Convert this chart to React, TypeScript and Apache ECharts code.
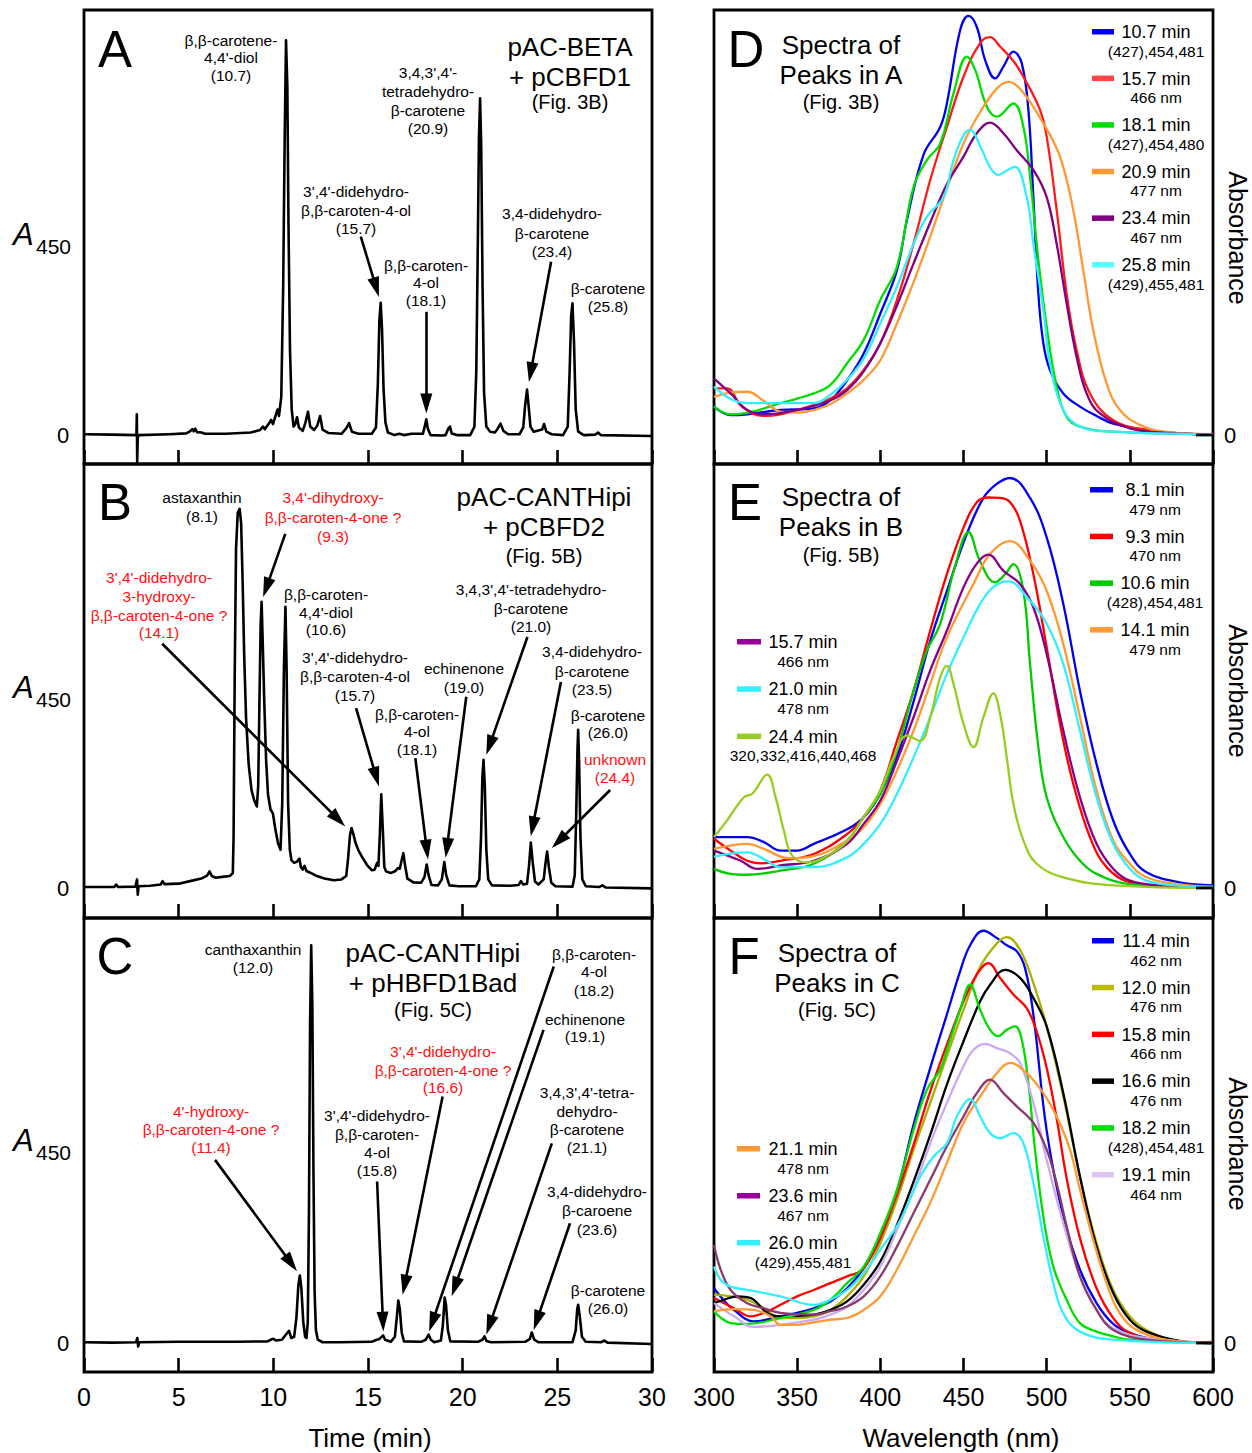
import { useEffect, useRef } from "react";
import * as echarts from "echarts";

const FONT = '"Liberation Sans", Arial, Helvetica, sans-serif';

// ---------------- axes ----------------
const timeMin = 0, timeMax = 30, timeStep = 5;
const wlMin = 300, wlMax = 600, wlStep = 50;
const yTop = 100;
const yBottoms = [-6.8, -7.1, -6.8, -6.8, -7.1, -6.8];

// ---------------- chromatograms: [time (min), A450 (rel.)] ----------------
const chromA = [
  [0, 0.2], [1.5, 0.1], [2.72, 0], [2.77, 0.3], [2.79, 4.9], [2.81, -6.3], [2.84, -0.5], [2.9, 0],
  [4.5, 0.2], [5.4, 0.4], [5.6, 0.9], [5.72, 1.4], [5.8, 0.9], [5.88, 1.5], [5.97, 0.7], [6.2, 0.6], [6.4, 0.3],
  [7.5, 0.3], [8.8, 0.6], [9.3, 1.2], [9.45, 2.0], [9.55, 1.4], [9.75, 2.6], [9.88, 3.6], [9.98, 2.6],
  [10.12, 4.6], [10.22, 6.0], [10.3, 4.5], [10.42, 9], [10.52, 35], [10.6, 70], [10.67, 92.9], [10.74, 82],
  [10.8, 50], [10.88, 20], [10.97, 6], [11.07, 2], [11.15, 2.5], [11.25, 4.2], [11.35, 1.8], [11.55, 1.0],
  [11.7, 3.0], [11.83, 5.5], [11.95, 2.0], [12.15, 1.2], [12.32, 2.2], [12.47, 4.5], [12.6, 1.3], [12.9, 0.5],
  [13.6, 0.3], [13.85, 1.6], [14.0, 2.8], [14.15, 0.8], [14.5, 0.3], [15.2, 0.3], [15.42, 1.8], [15.52, 12],
  [15.6, 27], [15.67, 31.1], [15.74, 25], [15.82, 11], [15.92, 3], [16.05, 0.6], [16.4, 0], [16.65, 0.3],
  [16.9, 0], [17.3, 0.3], [17.9, 0.3], [18.02, 2.5], [18.08, 3.7], [18.16, 1.5], [18.3, 0], [18.9, -0.1],
  [19.1, 0], [19.25, 1.6], [19.33, 2.0], [19.42, 0.4], [19.7, 0], [20.4, 0], [20.62, 2], [20.72, 15],
  [20.8, 45], [20.86, 70], [20.92, 79.2], [20.98, 68], [21.05, 35], [21.13, 10], [21.25, 2], [21.45, 0.8],
  [21.7, 0.6], [21.85, 1.5], [22.0, 2.7], [22.15, 1.0], [22.4, 0.2], [23.0, 0.2], [23.2, 1.8], [23.3, 7],
  [23.4, 10.7], [23.48, 7], [23.58, 2], [23.75, 0.8], [24.2, 1.3], [24.3, 2.6], [24.42, 0.8], [24.7, 0.2],
  [25.3, 0], [25.55, 2], [25.65, 15], [25.73, 28], [25.8, 31], [25.88, 22], [25.97, 6], [26.1, 0.8],
  [26.4, 0], [27.0, 0.1], [27.15, 0.6], [27.3, 0], [30, -0.2],
];

const chromB = [
  [0, 0.2], [1.6, 0.2], [1.7, 0.8], [1.8, 0.2], [2.72, 0.3], [2.8, 2.0], [2.84, -1.6], [2.88, 0.4],
  [3.5, 0.5], [4.05, 0.8], [4.15, 1.6], [4.25, 0.9], [5.0, 1.0], [5.6, 1.6], [6.2, 2.2], [6.5, 2.9],
  [6.63, 3.9], [6.75, 2.8], [6.95, 2.4], [7.3, 2.6], [7.7, 2.8], [7.86, 3.5], [7.9, 12], [7.96, 50],
  [8.03, 80], [8.12, 88.5], [8.22, 89.4], [8.3, 86], [8.38, 72], [8.46, 55], [8.56, 40], [8.7, 29],
  [8.85, 23], [9.0, 20.5], [9.13, 19.2], [9.2, 24], [9.27, 45], [9.33, 62], [9.38, 67.5], [9.44, 58],
  [9.52, 44], [9.62, 30], [9.72, 22], [9.85, 18.5], [9.98, 17.5], [10.1, 14], [10.25, 10.5], [10.38, 9],
  [10.47, 20], [10.56, 52], [10.64, 66.3], [10.7, 52], [10.78, 20], [10.87, 9], [10.96, 6.5], [11.1, 5.9],
  [11.25, 6.2], [11.38, 6.9], [11.45, 5], [11.55, 4.3], [11.65, 5.2], [11.75, 4], [12.0, 3.5], [12.3, 2.8],
  [12.7, 2.2], [13.2, 1.8], [13.6, 2.0], [13.85, 2.8], [13.95, 7], [14.05, 12.5], [14.13, 14.1], [14.22, 12.8],
  [14.35, 10.5], [14.5, 8.8], [14.7, 7.2], [14.95, 5.4], [15.2, 4.2], [15.35, 4.3], [15.48, 5.9], [15.55, 5.2],
  [15.62, 12], [15.7, 22.1], [15.78, 14], [15.86, 5], [15.95, 3.9], [16.2, 3.5], [16.45, 4.0], [16.58, 4.7],
  [16.68, 4.5], [16.8, 7], [16.87, 8.2], [16.95, 5.5], [17.08, 2.2], [17.4, 1.3], [17.8, 1.2], [17.98, 2.5],
  [18.1, 5.5], [18.2, 3], [18.35, 0.7], [18.7, 0.6], [18.9, 2], [19.03, 6.1], [19.13, 3], [19.3, 0.6],
  [19.8, 0.4], [20.7, 0.4], [20.88, 2], [20.97, 12], [21.04, 26], [21.1, 30.2], [21.17, 24], [21.25, 9],
  [21.35, 2], [21.55, 0.6], [22.5, 0.5], [22.95, 0.7], [23.08, 1.6], [23.2, 0.8], [23.4, 1], [23.5, 5],
  [23.6, 10.7], [23.7, 6], [23.82, 1.5], [24.0, 0.8], [24.28, 2], [24.38, 6], [24.46, 8.6], [24.55, 5],
  [24.68, 1.2], [24.9, 0.4], [25.8, 0.3], [25.92, 3], [26.0, 18], [26.06, 32], [26.1, 37.3], [26.15, 30],
  [26.22, 12], [26.32, 2], [26.5, 0.4], [27.2, 0.2], [27.38, 0.6], [27.55, 0.1], [30, -0.1],
];

const chromC = [
  [0, 0.2], [1.5, 0.1], [2.75, 0.2], [2.82, 1.2], [2.86, -0.8], [2.92, 0.2], [5, 0.3], [8, 0.3],
  [9.7, 0.4], [9.9, 0.9], [10.0, 1.0], [10.15, 0.6], [10.45, 0.8], [10.7, 2.2], [10.83, 2.9], [10.95, 1.2],
  [11.1, 1.5], [11.22, 6], [11.32, 13.5], [11.4, 15.9], [11.48, 13], [11.58, 5], [11.68, 1.5], [11.75, 1.2],
  [11.82, 5], [11.88, 30], [11.94, 75], [12.0, 93.6], [12.06, 80], [12.12, 40], [12.18, 12], [12.25, 3],
  [12.35, 0.8], [12.6, 0.2], [13.5, 0.2], [15.2, 0.3], [15.45, 0.8], [15.58, 0.9], [15.7, 1.4], [15.8, 1.8],
  [15.9, 0.8], [16.2, 0.3], [16.42, 1.5], [16.52, 6], [16.6, 10], [16.68, 8], [16.78, 2.5], [16.9, 0.4],
  [17.8, 0.3], [18.05, 0.8], [18.2, 2], [18.32, 0.8], [18.5, 0.2], [18.85, 0.6], [18.95, 4], [19.05, 10.7],
  [19.12, 9], [19.22, 3], [19.35, 0.4], [20.8, 0.3], [21.05, 0.8], [21.15, 1.6], [21.26, 0.5], [21.5, 0.2],
  [23.3, 0.3], [23.55, 1.0], [23.65, 2.5], [23.78, 0.8], [24.0, 0.2], [25.8, 0.2], [25.97, 3], [26.05, 8],
  [26.1, 9], [26.18, 6.5], [26.3, 1.5], [26.5, 0.3], [27.3, 0.2], [27.48, 0.6], [27.65, 0.1], [30, -0.2],
];

// arrows: [fromTime, fromA, tipTime, tipA]
const arrowsA = [[14.62, 46.7, 15.58, 32.5], [18.08, 29, 18.08, 5.1], [24.67, 40.8, 23.5, 12.5]];
const arrowsB = [
  [10.63, 83.5, 9.46, 68.6], [4.13, 57.6, 13.8, 14.5], [14.37, 42.4, 15.58, 23.9], [17.5, 30.6, 18.17, 6.7],
  [20.19, 45.1, 19.1, 7.1], [23.42, 59.2, 21.25, 31.4], [25.19, 48.6, 23.6, 12.2], [27.79, 23.1, 24.71, 9.4],
];
const arrowsC = [
  [6.92, 43.1, 11.25, 16.9], [15.48, 38, 15.81, 2.7], [18.94, 58, 16.83, 11.4], [24.81, 88.6, 18.23, 2.7],
  [24.27, 73.7, 19.42, 11], [24.71, 47, 21.25, 2], [25.67, 28.2, 23.75, 3.1],
];

// ---------------- spectra: [wavelength (nm), absorbance (rel.)] ----------------
// D
const d107 = [[300,6.7],[310,4.7],[320,4.9],[340,5.9],[360,6.3],[370,8.2],[380,12.9],[390,19.2],[400,28.6],[410,38.8],[416,50.6],[426,66],[436,72.5],[440,78],[448,95.3],[453,98.6],[458,96],[463,88.2],[469,83.9],[474,86.7],[480,90.2],[485,87.5],[489,76.5],[492,56],[495,33.3],[498,21.6],[502,15.3],[510,9.8],[520,6.7],[530,4.5],[540,2.7],[560,1.2],[580,0.4],[600,0.2]];
const d157 = [[300,11],[308,11],[316,7],[326,4.7],[332,4.5],[350,5.9],[370,8.6],[380,11],[390,15.3],[400,21.6],[410,31.8],[420,45.1],[430,60],[440,72.5],[450,84.3],[460,92.2],[466,93.6],[472,91.4],[480,88],[486,84.3],[496,76.5],[500,70.2],[506,53],[512,33.3],[518,20],[526,9.8],[540,3.5],[560,1.2],[580,0.4],[600,0.2]];
const d181 = [[300,6.7],[310,4.9],[320,5.2],[340,7.5],[350,8.6],[360,9.8],[370,11.8],[380,16.9],[390,22.4],[400,31.8],[410,39.6],[420,58.4],[428,64.7],[436,68.6],[444,80.4],[452,89],[457,85.9],[464,77.3],[470,74.9],[480,78],[486,72.5],[490,60.8],[495,41.2],[500,25.5],[506,11.4],[512,4.3],[520,2],[540,0.8],[600,0.2]];
const d209 = [[300,9],[310,10],[320,10.2],[330,8],[340,5.5],[350,5.3],[360,5.9],[370,7.3],[380,9.8],[390,13],[400,17.6],[410,26.3],[420,36],[430,46.7],[440,58],[450,68.6],[460,76],[470,81.5],[477,83.1],[485,81],[498,73.3],[508,65.5],[516,52.9],[522,38.8],[528,24.7],[536,12.2],[544,5.9],[556,2.4],[570,0.8],[600,0.2]];
const d234 = [[300,13.3],[310,9.8],[320,5.9],[330,4.9],[350,5.9],[370,8.2],[380,10.6],[390,15],[400,21.6],[410,30.5],[420,40.4],[430,50],[440,59],[450,65.5],[458,71],[466,73.5],[474,71],[482,67],[492,62.4],[500,56],[506,45],[512,31],[518,18.4],[524,9.8],[532,5.1],[550,1.6],[570,0.6],[600,0.2]];
const d258 = [[300,11.4],[310,8.5],[320,7.5],[340,7.5],[360,7.5],[370,9.5],[380,13],[390,18],[400,26.3],[410,34.9],[420,45],[428,51.4],[438,56],[444,64.7],[450,70.5],[454,71.8],[460,68],[466,63],[471,61.2],[477,62.5],[481,63.1],[488,56],[492,45],[498,29.4],[502,16.9],[510,5.9],[520,2],[540,0.8],[600,0.2]];

// E
const e81 = [[300,12],[320,12],[330,10.8],[340,8.8],[350,8.8],[360,10.4],[370,12],[384,14.7],[392,17.5],[400,22.2],[410,31],[420,44],[430,58.3],[440,70],[452,83.5],[462,92],[470,95.3],[478,96.7],[490,92],[500,82.7],[510,67],[520,46.5],[530,29.2],[540,15.9],[550,8],[560,3.7],[580,1.3],[600,0.6]];
const e93 = [[300,11.6],[310,8.8],[320,6.4],[328,5.8],[340,6.4],[360,8],[380,12.7],[390,16.7],[400,23],[410,34.7],[420,46.5],[430,60.7],[440,74],[450,85],[458,91],[465,92.1],[472,92],[478,91],[484,86.6],[492,74],[500,56.8],[508,38.7],[516,24.5],[526,12],[536,4.9],[550,1.3],[570,0.5],[600,0.3]];
const e106 = [[300,4.5],[310,3.3],[320,3.1],[340,4.1],[360,5.7],[380,11.2],[390,16.7],[400,22.2],[410,32.4],[420,46.5],[428,56],[436,62.3],[445,76],[453,83.9],[460,77],[469,72.1],[475,74],[480,76.4],[486,70.1],[490,52.8],[495,33.2],[500,21.4],[510,12],[520,6.4],[530,3.3],[550,0.9],[600,0.2]];
const e141 = [[300,9.2],[310,10],[320,10.4],[330,9.2],[345,7],[360,7.5],[380,11.2],[390,14.3],[400,19.8],[410,27.7],[420,37.1],[430,48.1],[440,59.1],[456,71.7],[466,78.8],[478,81.8],[490,77.2],[500,70.1],[510,57.5],[520,40.3],[530,23],[540,11.2],[550,5.7],[560,2.5],[580,0.8],[600,0.3]];
const e157 = [[300,8.8],[316,6.4],[326,4.5],[340,5.3],[360,6.4],[380,10.4],[390,15.1],[400,20.6],[410,30],[420,40.3],[430,51.3],[440,60.7],[450,70.9],[458,76.5],[465,78.6],[474,74.8],[484,71.7],[492,66.2],[500,55.2],[510,37.1],[520,21.4],[530,10.4],[540,4.5],[550,1.7],[570,0.5],[600,0.2]];
const e210 = [[300,7.4],[320,8.4],[330,6.8],[340,4.9],[360,4.9],[380,7.2],[390,10.4],[400,15.1],[410,22.2],[420,30.8],[430,40.3],[440,50.5],[450,59.1],[460,67],[468,71],[477,72.3],[488,68.6],[500,62.3],[510,52.8],[520,37.1],[530,21.4],[540,10.4],[550,4.5],[560,1.7],[580,0.5],[600,0.2]];
const e244 = [[300,12],[308,16],[318,21.4],[323,22.2],[332,26.7],[337,21.4],[342,13.5],[347,7.6],[356,6],[370,8],[380,11],[390,16.7],[400,23],[408,30.8],[416,35.9],[424,34.7],[430,40.3],[436,49.7],[440,52.4],[444,48.1],[450,38.7],[456,33.2],[462,40.3],[468,45.9],[472,41],[476,30.8],[480,19.8],[486,11.2],[494,5.7],[510,2.5],[540,0.6],[600,0]];

// F
const f114 = [[300,12.9],[306,10],[312,7.8],[324,5.1],[340,6.3],[350,7.1],[360,8.2],[370,9.8],[380,12.9],[390,17.6],[400,24.7],[410,35.7],[420,51.4],[430,64.7],[440,77.3],[448,87.5],[454,93.6],[462,97],[470,95.3],[476,93.6],[482,92.2],[487,88.2],[492,77.3],[500,50],[510,29.8],[520,17.3],[530,9.4],[540,4.5],[550,2.4],[560,1.2],[580,0.3],[600,0]];
const f120 = [[300,11.4],[310,11],[320,10.2],[330,8.2],[340,5.9],[350,5.9],[360,6.3],[370,7.8],[380,11],[390,15.7],[400,23.5],[410,33.7],[420,45.5],[430,56.5],[440,67.5],[450,78.4],[460,88.5],[470,94],[476,95.5],[484,92.5],[492,84.7],[500,74.5],[510,58],[520,39.2],[530,23.5],[540,12.5],[550,6.3],[560,3.1],[580,0.4],[600,0]];
const f158 = [[300,10.6],[312,8.2],[322,6.3],[330,7.1],[340,9],[350,11],[360,12.5],[370,14.1],[380,15.7],[388,16.9],[394,20],[400,24.7],[410,35],[420,46.7],[430,59.2],[440,70.2],[450,80.4],[458,86.7],[465,89.4],[472,85.9],[480,82],[488,78.8],[494,73.3],[500,64.7],[506,52.9],[512,38.8],[520,24.7],[530,12.9],[540,5.9],[550,2.4],[570,0.4],[600,0.2]];
const f166 = [[300,9.4],[306,10.2],[314,11],[322,10.6],[332,7.1],[340,6.3],[360,6.7],[370,7.8],[380,9.8],[390,13.7],[400,19.2],[410,27.8],[420,38],[430,49],[440,60.8],[450,71],[460,80.4],[466,84.3],[475,87.8],[484,85.9],[492,81.2],[500,74.5],[510,58.8],[520,39.2],[530,22.7],[540,11.8],[550,5.5],[560,2.7],[580,0.5],[600,0]];
const f182 = [[300,7.5],[304,6],[310,4.7],[320,4.5],[340,5.9],[360,7.8],[370,10.2],[380,14.1],[390,18],[400,25.9],[410,36.1],[420,50.2],[428,59.6],[436,64.3],[440,69],[448,78.4],[454,84.3],[460,78.4],[466,73.7],[471,72.2],[476,73.7],[481,74.5],[485,71.4],[489,61.2],[493,45.5],[498,29.8],[504,18],[512,10.2],[520,4.7],[530,2.7],[536,2],[550,0.8],[600,0]];
const f191 = [[300,9.4],[312,6.3],[324,3.8],[340,4.3],[360,5.5],[370,6.7],[380,8.6],[390,12.5],[400,18],[410,26.7],[420,36.1],[430,47],[440,56.5],[450,65.1],[456,69],[463,70.4],[470,69.4],[478,68.2],[484,65.9],[492,56.5],[500,43.1],[510,28.2],[520,15.7],[530,7.8],[540,3.5],[560,1.2],[600,0]];
const f211 = [[300,7.5],[312,8],[324,7.8],[334,6.3],[340,4.3],[350,4.3],[360,4.9],[370,5.5],[380,5.9],[390,7.8],[400,11],[410,17.3],[420,25.1],[430,33],[440,42.4],[450,51.8],[460,58],[470,63.5],[478,65.9],[488,63.5],[498,58.8],[506,53.3],[514,45.5],[520,36.1],[528,24.3],[536,14.1],[544,7],[556,2.7],[580,0.4],[600,0]];
const f236 = [[300,23.1],[304,17.3],[310,12.5],[320,9.4],[330,8.2],[340,7.1],[360,6.7],[370,7.5],[380,8.6],[390,11],[400,15.7],[410,22.7],[420,30.6],[430,38.4],[440,46.3],[450,53.3],[458,58.8],[466,62],[474,58.8],[482,55.7],[492,51.8],[500,45.5],[506,37.6],[512,27.5],[520,15.7],[530,7.8],[540,3.1],[560,0.8],[600,0]];
const f260 = [[300,18],[304,14.9],[310,13.3],[320,12.5],[340,11],[360,9],[370,10.2],[380,12.5],[390,16.5],[400,22],[410,27.5],[416,32.2],[424,39.2],[432,43.9],[440,47],[446,53.3],[454,57.4],[460,53.3],[466,49.4],[472,48.2],[480,49.4],[486,47],[492,37.6],[498,25.1],[504,14.1],[510,7],[520,2.7],[540,0.8],[600,0]];

// legend texts & colours (line colour, legend swatch colour)
const namesD = ["10.7 min", "15.7 min", "18.1 min", "20.9 min", "23.4 min", "25.8 min"];
const subsD = ["(427),454,481", "466 nm", "(427),454,480", "477 nm", "467 nm", "(429),455,481"];
const colorsD = ["#0000ee", "#ff1a1a", "#00dd00", "#ff9933", "#800080", "#33eeff"];
const swatchD = ["#0000ee", "#ff4444", "#00dd00", "#ff9933", "#800080", "#55ffff"];
const dataD = [d107, d157, d181, d209, d234, d258];

const namesE = ["8.1 min", "9.3 min", "10.6 min", "14.1 min", "15.7 min", "21.0 min", "24.4 min"];
const subsE = ["479 nm", "470 nm", "(428),454,481", "479 nm", "466 nm", "478 nm", "320,332,416,440,468"];
const colorsE = ["#0000ee", "#ff0000", "#00cc00", "#ff9933", "#880088", "#33eeff", "#99cc22"];
const swatchE = ["#0000ee", "#ff0000", "#00cc00", "#ff9933", "#990099", "#33eeff", "#99cc22"];
const dataE = [e81, e93, e106, e141, e157, e210, e244];

const namesF = ["11.4 min", "12.0 min", "15.8 min", "16.6 min", "18.2 min", "19.1 min", "21.1 min", "23.6 min", "26.0 min"];
const subsF = ["462 nm", "476 nm", "466 nm", "476 nm", "(428),454,481", "464 nm", "478 nm", "467 nm", "(429),455,481"];
const colorsF = ["#0000ee", "#aab000", "#ff0000", "#000000", "#00dd00", "#ccaaf0", "#ff9933", "#8b3a70", "#33eeff"];
const swatchF = ["#0000ee", "#bbbb00", "#ff0000", "#000000", "#00dd00", "#ddc4f5", "#ff9933", "#990099", "#33eeff"];
const dataF = [f114, f120, f158, f166, f182, f191, f211, f236, f260];

// annotation texts
const RED = "#ff1111";
const labelsA = [
  { x: 231, y: [40, 57, 75], t: ["β,β-carotene-", "4,4'-diol", "(10.7)"] },
  { x: 428, y: [72, 91, 110, 128], t: ["3,4,3',4'-", "tetradehydro-", "β-carotene", "(20.9)"] },
  { x: 356, y: [191, 210, 228], t: ["3',4'-didehydro-", "β,β-caroten-4-ol", "(15.7)"] },
  { x: 426, y: [265, 282, 300], t: ["β,β-caroten-", "4-ol", "(18.1)"] },
  { x: 552, y: [213, 233, 251], t: ["3,4-didehydro-", "β-carotene", "(23.4)"] },
  { x: 608, y: [288, 306], t: ["β-carotene", "(25.8)"] },
];
const labelsB = [
  { x: 202, y: [497, 516], t: ["astaxanthin", "(8.1)"] },
  { x: 333, y: [497, 517, 536], t: ["3,4'-dihydroxy-", "β,β-caroten-4-one ?", "(9.3)"], red: true },
  { x: 159, y: [577, 596, 615, 632], t: ["3',4'-didehydro-", "3-hydroxy-", "β,β-caroten-4-one ?", "(14.1)"], red: true },
  { x: 326, y: [594, 612, 629], t: ["β,β-caroten-", "4,4'-diol", "(10.6)"] },
  { x: 531, y: [589, 608, 626], t: ["3,4,3',4'-tetradehydro-", "β-carotene", "(21.0)"] },
  { x: 355, y: [657, 676, 695], t: ["3',4'-didehydro-", "β,β-caroten-4-ol", "(15.7)"] },
  { x: 464, y: [668, 687], t: ["echinenone", "(19.0)"] },
  { x: 592, y: [651, 671, 689], t: ["3,4-didehydro-", "β-carotene", "(23.5)"] },
  { x: 417, y: [714, 731, 749], t: ["β,β-caroten-", "4-ol", "(18.1)"] },
  { x: 608, y: [715, 732], t: ["β-carotene", "(26.0)"] },
  { x: 615, y: [759, 777], t: ["unknown", "(24.4)"], red: true },
];
const labelsC = [
  { x: 253, y: [949, 967], t: ["canthaxanthin", "(12.0)"] },
  { x: 594, y: [954, 971, 990], t: ["β,β-caroten-", "4-ol", "(18.2)"] },
  { x: 585, y: [1019, 1036], t: ["echinenone", "(19.1)"] },
  { x: 443, y: [1051, 1070, 1087], t: ["3',4'-didehydro-", "β,β-caroten-4-one ?", "(16.6)"], red: true },
  { x: 587, y: [1092, 1111, 1129, 1147], t: ["3,4,3',4'-tetra-", "dehydro-", "β-carotene", "(21.1)"] },
  { x: 211, y: [1111, 1129, 1147], t: ["4'-hydroxy-", "β,β-caroten-4-one ?", "(11.4)"], red: true },
  { x: 377, y: [1115, 1134, 1152, 1170], t: ["3',4'-didehydro-", "β,β-caroten-", "4-ol", "(15.8)"] },
  { x: 597, y: [1191, 1210, 1229], t: ["3,4-didehydro-", "β-caroene", "(23.6)"] },
  { x: 608, y: [1290, 1308], t: ["β-carotene", "(26.0)"] },
];
const titles = [
  { x: 570, y: [47, 77, 102], t: ["pAC-BETA", "+ pCBFD1", "(Fig. 3B)"] },
  { x: 544, y: [497, 527, 556], t: ["pAC-CANTHipi", "+ pCBFD2", "(Fig. 5B)"] },
  { x: 433, y: [953, 983, 1010], t: ["pAC-CANTHipi", "+ pHBFD1Bad", "(Fig. 5C)"] },
  { x: 841, y: [45, 75, 102], t: ["Spectra of", "Peaks in A", "(Fig. 3B)"] },
  { x: 841, y: [497, 527, 555], t: ["Spectra of", "Peaks in B", "(Fig. 5B)"] },
  { x: 837, y: [953, 983, 1010], t: ["Spectra of", "Peaks in C", "(Fig. 5C)"] },
];
const panelLetters = [
  { x: 115, y: 49, t: "A" }, { x: 115, y: 502, t: "B" }, { x: 115, y: 956, t: "C" },
  { x: 746, y: 49, t: "D" }, { x: 745, y: 502, t: "E" }, { x: 744, y: 956, t: "F" },
];

function txt(x: number, y: number, text: string, size: number, color = "#000", align = "center", extra: any = {}) {
  return {
    type: "text", x, y, silent: true, z: 10,
    style: {
      text, fill: color, fontSize: size, fontFamily: FONT,
      align, textAlign: align, verticalAlign: "middle", textVerticalAlign: "middle", ...extra,
    },
  };
}

function buildOption() {
  const gridRects = [
    { left: 84, top: 10, width: 568, height: 454 },
    { left: 84, top: 464, width: 568, height: 454 },
    { left: 84, top: 918, width: 568, height: 454 },
    { left: 714, top: 10, width: 499, height: 454 },
    { left: 714, top: 464, width: 499, height: 454 },
    { left: 714, top: 918, width: 499, height: 454 },
  ];
  const grid = gridRects.map((g) => ({
    ...g, show: true, borderColor: "#000", borderWidth: 2.8, backgroundColor: "transparent",
    containLabel: false, outerBoundsMode: "none",
  }));
  const xAxis = gridRects.map((_, i) => {
    const isTime = i < 3;
    const bottom = i === 2 || i === 5;
    return {
      type: "value", gridIndex: i,
      min: isTime ? timeMin : wlMin, max: isTime ? timeMax : wlMax, interval: isTime ? timeStep : wlStep,
      axisLine: { show: false, onZero: false },
      splitLine: { show: false },
      axisTick: { show: true, inside: true, length: 14, lineStyle: { color: "#000", width: 2.6 } },
      axisLabel: { show: bottom, fontSize: 25, color: "#000", fontFamily: FONT, margin: 12, showMinLabel: true, showMaxLabel: true },
    };
  });
  const yAxis = gridRects.map((_, i) => ({
    type: "value", gridIndex: i, min: yBottoms[i], max: yTop, show: false,
    axisLine: { onZero: false }, splitLine: { show: false },
  }));

  // pull each arrow's end back by half the head length so that the head's tip lands on the read point
  const HEAD = 20;
  const arrows = [arrowsA, arrowsB, arrowsC].map((list, i) => {
    const sx = gridRects[i].width / (timeMax - timeMin);
    const sy = gridRects[i].height / (yTop - yBottoms[i]);
    return list.map((a) => {
      const dx = (a[2] - a[0]) * sx, dy = (a[3] - a[1]) * sy;
      const len = Math.hypot(dx, dy);
      const f = (HEAD / 2) / len;
      return [a[0], a[1], a[2] - (a[2] - a[0]) * f, a[3] - (a[3] - a[1]) * f];
    });
  });
  const series: any[] = [chromA, chromB, chromC].map((d, i) => ({
    type: "line", xAxisIndex: i, yAxisIndex: i, data: d, symbol: "none", showSymbol: false,
    lineStyle: { color: "#000", width: 2.6, join: "round" }, z: 3, silent: true,
    markLine: {
      silent: true, symbol: ["none", "triangle"], symbolSize: [12, HEAD], animation: false,
      label: { show: false }, lineStyle: { color: "#000", width: 2.6, type: "solid" },
      emphasis: { disabled: true },
      data: arrows[i].map((a) => [{ coord: [a[0], a[1]] }, { coord: [a[2], a[3]] }]),
    },
  }));
  const specSets = [
    { data: dataD, colors: colorsD },
    { data: dataE, colors: colorsE },
    { data: dataF, colors: colorsF },
  ];
  specSets.forEach((set, j) => {
    set.data.forEach((d, k) => {
      series.push({
        type: "line", xAxisIndex: 3 + j, yAxisIndex: 3 + j, data: d, smooth: 0.4, symbol: "none",
        showSymbol: false, silent: true, lineStyle: { color: set.colors[k], width: 2.3 }, z: 3,
      });
    });
  });

  const g: any[] = [];
  panelLetters.forEach((p) => g.push(txt(p.x, p.y, p.t, 51)));
  titles.forEach((b) => {
    g.push(txt(b.x, b.y[0], b.t[0], 26));
    g.push(txt(b.x, b.y[1], b.t[1], 26));
    g.push(txt(b.x, b.y[2], b.t[2], 20));
  });
  [...labelsA, ...labelsB, ...labelsC].forEach((b: any) => {
    b.t.forEach((line: string, k: number) => g.push(txt(b.x, b.y[k], line, 15.5, b.red ? RED : "#000")));
  });
  const legendItem = (name: string, sub: string, color: string, px0: number, px1: number, cx: number, y: number) => {
    g.push({ type: "rect", silent: true, z: 10, shape: { x: px0, y: y - 3, width: px1 - px0, height: 5.5 }, style: { fill: color } });
    g.push(txt(cx, y, name, 18));
    g.push(txt(cx, y + 19, sub, 15.5));
  };
  namesD.forEach((n, i) => legendItem(n, subsD[i], swatchD[i], 1092, 1114, 1156, 32 + i * 46.6));
  namesE.forEach((n, i) => {
    if (i < 4) legendItem(n, subsE[i], swatchE[i], 1090, 1113, 1155, 490 + i * 46.7);
    else legendItem(n, subsE[i], swatchE[i], 737, 761, 803, 642 + (i - 4) * 47.3);
  });
  namesF.forEach((n, i) => {
    if (i < 6) legendItem(n, subsF[i], swatchF[i], 1092, 1114, 1156, 941 + i * 46.8);
    else legendItem(n, subsF[i], swatchF[i], 737, 760, 803, 1149 + (i - 6) * 47);
  });
  const baselines = [435, 888, 1343];
  const aY = [234, 687, 1140];
  baselines.forEach((b, i) => {
    g.push(txt(63, b, "0", 22));
    g.push(txt(1230, b, "0", 22));
    g.push({ type: "line", silent: true, z: 10, shape: { x1: 1196, y1: b, x2: 1213, y2: b }, style: { stroke: "#000", lineWidth: 2.8 } });
    g.push(txt(13, aY[i], "A", 31, "#000", "left", { fontStyle: "italic" }));
    g.push(txt(36, aY[i] + 12.5, "450", 21, "#000", "left"));
    g.push({
      type: "text", x: 1238, y: aY[i] + 4, rotation: -Math.PI / 2, silent: true, z: 10,
      style: { text: "Absorbance", fill: "#000", fontSize: 25, fontFamily: FONT, align: "center", textAlign: "center", verticalAlign: "middle", textVerticalAlign: "middle" },
    });
  });
  g.push(txt(370, 1438, "Time (min)", 26));
  g.push(txt(961, 1438, "Wavelength (nm)", 26));

  return {
    animation: false,
    backgroundColor: "#fff",
    grid, xAxis, yAxis, series,
    graphic: { elements: g },
  };
}

export default function App() {
  const ref = useRef<HTMLDivElement>(null);
  useEffect(() => {
    if (!ref.current) return;
    const chart = echarts.init(ref.current, null, { renderer: "svg", width: 1252, height: 1453 });
    chart.setOption(buildOption() as any);
    return () => chart.dispose();
  }, []);
  return (
    <div
      ref={ref}
      style={{ position: "absolute", left: 0, top: 0, width: 1252, height: 1453, background: "#fff" }}
    />
  );
}
